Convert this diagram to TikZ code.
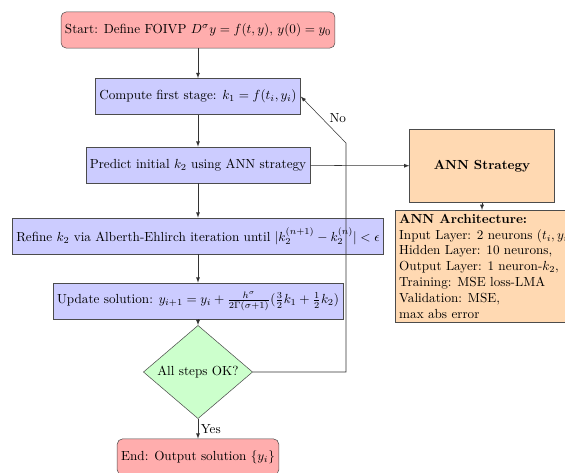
\documentclass[tikz,border=0pt]{standalone}
\usepackage{amsmath}
\usepackage{tikz}
\usetikzlibrary{shapes.geometric}
\tikzset{
    stepnode/.style  = {shape=rectangle, draw=black!70, align=center,
        fill=blue!20, minimum height=27.5pt, inner sep=3pt},
    termnode/.style  = {stepnode, rounded corners, fill=red!32},
    decnode/.style   = {diamond, draw=black!70, fill=green!20, aspect=1,
        minimum width=83pt, inner sep=0pt},
    annnode/.style   = {shape=rectangle, draw=black!70, fill=orange!30},
    flow/.style      = {draw=black!80, -latex}
}

\begin{document}
\begin{tikzpicture}
            [
            x = 0.76pt, y = -0.76pt,
            every node/.style = {font=\normalsize}
            ]
            \useasboundingbox (0,0) rectangle (565,472);
            % main chain
            \node[termnode] (start) at (198,30)
                {Start: Define FOIVP $D^{\sigma}y = f(t,y)$, $y(0) = y_0$};
            \node[stepnode] (first) at (198,96.5)
                {Compute first stage: $k_1 = f(t_i, y_i)$};
            \node[stepnode] (predict) at (198,165)
                {Predict initial $k_2$ using ANN strategy};
            \node[stepnode] (refine) at (198,236)
                {Refine $k_2$ via Alberth-Ehlirch iteration until $|k_2^{(n+1)} - k_2^{(n)}| < \epsilon$};
            \node[stepnode] (update) at (198,301)
                {Update solution: $y_{i+1} = y_i + \frac{h^{\sigma}}{2\Gamma(\sigma+1)}(\frac{3}{2}k_1 + \frac{1}{2}k_2)$};
            \node[decnode] (check) at (198,372) {All steps OK?};
            \node[termnode] (finish) at (198,457) {End: Output solution $\{y_i\}$};
            % ANN side
            \node[annnode, font=\normalsize\bfseries, minimum width=110pt,
                minimum height=55.5pt] (strategy) at (482,166) {ANN Strategy};
            \node[annnode, align=left, anchor=north west, inner sep=3pt] (arch) at (395,210)
                {\textbf{ANN Architecture:}\\
                 Input Layer: 2 neurons $(t_i, y_i)$,\\
                 Hidden Layer: 10 neurons,\\
                 Output Layer: 1 neuron-$k_2$,\\
                 Training: MSE loss-LMA\\
                 Validation: MSE,\\
                 max abs error};
            \coordinate (loopa) at (346,372);
            \coordinate (loopb) at (346,143);

            \draw[flow] (start) -- (first);
            \draw[flow] (first) -- (predict);
            \draw[flow] (predict) -- (refine);
            \draw[flow] (refine) -- (update);
            \draw[flow] (update) -- (check);
            \draw[flow] (check) -- node[right, inner sep=2pt] {Yes} (finish);
            \draw[flow] (check.east) -- (loopa) -- (loopb)
                -- node[above right, pos=0.4, inner sep=1pt] {No} (first.east);
            \draw[flow] (predict) -- (strategy);
            \draw[flow] (strategy) -- (strategy |- arch.north);
\end{tikzpicture}
\end{document}
